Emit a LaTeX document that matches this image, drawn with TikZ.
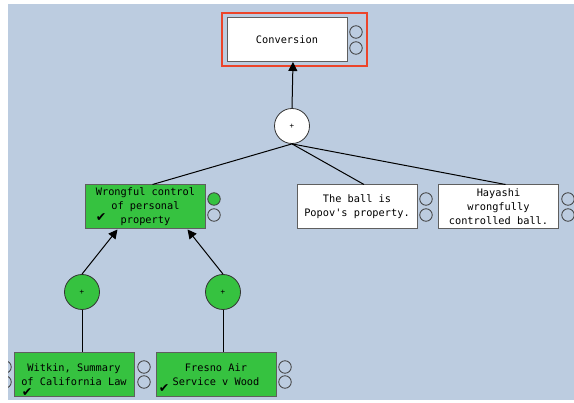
\documentclass[tikz,border=0pt]{standalone}
\usepackage{fontspec}
\setmonofont{DejaVu Sans Mono}
\newfontfamily\checkfont{DejaVu Sans}
\usetikzlibrary{arrows.meta,calc}
\definecolor{bgblue}{RGB}{188,204,224}
\definecolor{argreen}{RGB}{54,194,64}
\definecolor{selred}{RGB}{236,68,42}
\definecolor{boxgray}{RGB}{95,95,95}

\begin{document}
\begin{tikzpicture}[x=1pt,y=-1pt,
  claim/.style={draw=boxgray,line width=1pt,fill=white,minimum width=120pt,
    minimum height=44pt,align=center,inner sep=1pt,
    font=\ttfamily\fontsize{10.3}{14}\selectfont},
  held/.style={claim,fill=argreen},
  plus/.style={circle,draw=black!80,line width=0.8pt,fill=white,
    minimum size=35pt,inner sep=0pt,font=\ttfamily\fontsize{7.5}{7.5}\selectfont},
  heldplus/.style={plus,fill=argreen},
  dot/.style={circle,draw=black!75,line width=0.8pt,minimum size=12.5pt,inner sep=0pt},
  tick/.style={font=\checkfont\fontsize{12.5}{12.5}\selectfont,inner sep=0pt},
  link/.style={line width=1pt},
  support/.style={link,-{Triangle[width=9pt,length=9pt]}},
]

%--- background ---------------------------------------------------------
\useasboundingbox (0,0) rectangle (574,403);
\fill[white] (0,0) rectangle (574,403);
\fill[bgblue] (8,4) rectangle (574,400);
\clip (8,4) rectangle (574,400);

%--- claims -------------------------------------------------------------
\node[claim] (conv) at (287,39.5) {Conversion};
\draw[selred,line width=1.5pt] (222,13) rectangle (367,66);

\node[plus] (top) at (292,126) {+};

\node[held]  (wrong) at (145.5,207) {Wrongful control\\of personal\\property};
\node[claim] (ball)  at (357,207)   {The ball is\\Popov's property.};
\node[claim] (haya)  at (498.5,207) {Hayashi\\wrongfully\\controlled ball.};

\node[heldplus] (pl) at (82,292)  {+};
\node[heldplus] (pr) at (223,292) {+};

\node[held] (wit)  at (74,375)  {Witkin, Summary\\of California Law};
\node[held] (fres) at (216,375) {Fresno Air\\Service v Wood};

%--- status dots --------------------------------------------------------
\foreach \n/\x/\y in {conv/356/32,conv/356/48,
                     wrong/214/215,ball/426/199,ball/426/215,
                     haya/568/199,haya/568/215,
                     wit/144/367,wit/144/382,wit/5/367,wit/5/382,
                     fres/285/367,fres/285/382}{
  \node[dot] at (\x,\y) {};
}
\node[dot,fill=argreen] (wdot) at (214,199) {};

%--- ticks --------------------------------------------------------------
\node[tick] (twrong) at (101,218) {✔};
\node[tick] (twit)   at (27,392.5) {✔};
\node[tick] (tfres)  at (164,389) {✔};

%--- connectors ---------------------------------------------------------
\draw[support] (top.north) -- ($(conv.south)+(6,0)$);
\draw[link] (top.south) -- ($(wrong.north)+(7,0)$);
\draw[link] (top.south) -- ($(ball.north)+(7,0)$);
\draw[link] (top.south) -- ($(haya.north)+(7,0)$);

\draw[support] (pl.north) -- ($(wrong.south)+(-28,0)$);
\draw[support] (pr.north) -- ($(wrong.south)+(42,0)$);

\draw[link] (pl.south) -- ($(wit.north)+(8,0)$);
\draw[link] (pr.south) -- ($(fres.north)+(7,0)$);

\end{tikzpicture}
\end{document}
